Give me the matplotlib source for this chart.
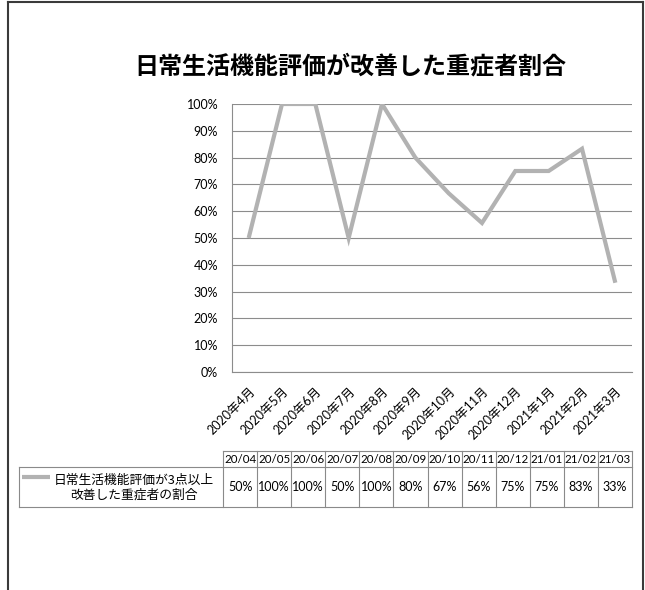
import matplotlib
matplotlib.use("Agg")
import matplotlib.pyplot as plt
from matplotlib.lines import Line2D

plt.rcParams['font.family'] = ['Lato', 'Noto Sans CJK JP', 'DejaVu Sans']

# ---- data ----
title = "日常生活機能評価が改善した重症者割合"
categories = ["2020年4月", "2020年5月", "2020年6月", "2020年7月", "2020年8月", "2020年9月",
              "2020年10月", "2020年11月", "2020年12月", "2021年1月", "2021年2月", "2021年3月"]
table_headers = ["20/04", "20/05", "20/06", "20/07", "20/08", "20/09",
                 "20/10", "20/11", "20/12", "21/01", "21/02", "21/03"]
values = [50, 100, 100, 50, 100, 80, 66.7, 55.6, 75, 75, 83.3, 33.3]
series_name = "日常生活機能評価が3点以上\n改善した重症者の割合"

W, H = 645, 590
fig = plt.figure(figsize=(W / 100, H / 100), dpi=100)
fig.patch.set_facecolor("white")

line_color = "#b2b2b2"
grid_color = "#8c8c8c"
border_color = "#8a8a8a"

# ---- plot area ----
px_left, px_right, px_top, px_bottom = 232, 632, 104, 372
ax = fig.add_axes([px_left / W, 1 - px_bottom / H, (px_right - px_left) / W, (px_bottom - px_top) / H])
x = list(range(len(values)))
ax.plot(x, values, color=line_color, lw=3.0, solid_joinstyle="miter", solid_capstyle="butt", zorder=3)
ax.set_xlim(-0.5, len(values) - 0.5)
ax.set_ylim(0, 100)
ax.set_yticks(range(0, 101, 10))
ax.set_yticklabels([f"{v}%" for v in range(0, 101, 10)], fontsize=9)
ax.set_xticks(x)
ax.set_xticklabels(categories, rotation=45, ha="right", va="top", rotation_mode="anchor", fontsize=9)
ax.tick_params(axis="y", length=0, pad=10)
ax.tick_params(axis="x", length=0, pad=9)
ax.grid(axis="y", color=grid_color, lw=0.8)
ax.set_axisbelow(True)
for s in ["top", "right"]:
    ax.spines[s].set_visible(False)
for s in ["left", "bottom"]:
    ax.spines[s].set_color(grid_color)
    ax.spines[s].set_linewidth(0.8)

# ---- overlay for title, table, frame ----
ov = fig.add_axes([0, 0, 1, 1], zorder=-1)
ov.set_xlim(0, W)
ov.set_ylim(H, 0)
ov.axis("off")

ov.text(350, 66, title, ha="center", va="center", fontsize=17.3, fontweight="bold",
        family=["Noto Sans CJK JP"])

# chart frame
fc = "#3a3a3a"
ov.add_line(Line2D([8, 8], [2, H], color=fc, lw=1.5))
ov.add_line(Line2D([8, 643], [2, 2], color=fc, lw=1.5))
ov.add_line(Line2D([643, 643], [2, H], color=fc, lw=1.5))

# data table
t_left, t_x0, t_right = 19, 223, 632
y_h0, y_h1, y_d1 = 451, 467, 507
n = len(table_headers)
cw = (t_right - t_x0) / n
lw_t = 0.8
ov.add_line(Line2D([t_x0, t_right], [y_h0, y_h0], color=border_color, lw=lw_t))
ov.add_line(Line2D([t_left, t_right], [y_h1, y_h1], color=border_color, lw=lw_t))
ov.add_line(Line2D([t_left, t_right], [y_d1, y_d1], color=border_color, lw=lw_t))
ov.add_line(Line2D([t_left, t_left], [y_h1, y_d1], color=border_color, lw=lw_t))
for i in range(n + 1):
    xx = t_x0 + i * cw
    ov.add_line(Line2D([xx, xx], [y_h0, y_d1], color=border_color, lw=lw_t))
for i, (hdr, v) in enumerate(zip(table_headers, values)):
    cx = t_x0 + (i + 0.5) * cw
    ov.text(cx, (y_h0 + y_h1) / 2 + 0.5, hdr, ha="center", va="center", fontsize=8.3)
    ov.text(cx, (y_h1 + y_d1) / 2, f"{round(v)}%", ha="center", va="center", fontsize=9)

# legend key + series name
ov.add_line(Line2D([22, 50], [477, 477], color=line_color, lw=3.0, solid_capstyle="butt"))
ov.text(134, 488, series_name, ha="center", va="center", fontsize=9.2, linespacing=1.2,
        family=["Noto Sans CJK JP", "Lato"])

fig.savefig("out.png", dpi=100, facecolor="white")
